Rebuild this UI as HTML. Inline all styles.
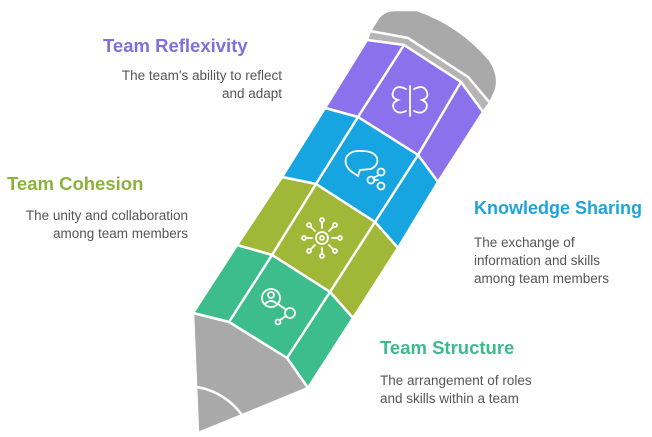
<!DOCTYPE html>
<html><head><meta charset="utf-8"><style>
html,body{margin:0;padding:0;background:#fff;}
body{width:652px;height:437px;position:relative;overflow:hidden;font-family:"Liberation Sans",sans-serif;}
svg{position:absolute;left:0;top:0;}
</style></head><body>
<svg width="652" height="437" viewBox="0 0 652 437">
<g stroke="#fff" stroke-width="2.5" stroke-linejoin="round">
<path d="M370,31 L378,18 Q384,10 395,10 L417,10 Q460,25 490,60 Q500,75 496,90 L490,103 L468,77 L408,38 Z" fill="#a9a9a9"/>
<path d="M367,40 L370,31 L408,38 L468,77 L490,103 L483,112 L461,82 L404,45 Z" fill="#b5b5b5"/>
<path d="M367,40 L404,45 L461,82 L483,112 L438,182 L418,155 L358,117 L325,108 Z" fill="#8b72ec"/>
<path d="M325,108 L358,117 L418,155 L438,182 L398,248 L375,222 L316,184 L282,177 Z" fill="#17a5e1"/>
<path d="M282,177 L316,184 L375,222 L398,248 L353,318 L330,292 L272,255 L237,245 Z" fill="#a0b737"/>
<path d="M237,245 L272,255 L330,292 L353,318 L308,388 L287,358 L229,322 L193,313 Z" fill="#3dbd8c"/>
<path d="M193,313 L229,322 L287,358 L308,388 Q250,412 198,433 Z" fill="#a9a9a9"/>
<path d="M197,387 Q225,392 242,415" fill="none"/>
<polyline points="404,45 358,117 316,184 272,255 229,322" fill="none"/>
<polyline points="461,82 418,155 375,222 330,292 287,358" fill="none"/>
</g>
<g fill="none" stroke="#fff" stroke-width="1.8" stroke-linecap="round">
<line x1="410" y1="86" x2="410" y2="116"/>
<path d="M406,89 Q396,84 393,92 Q391,98 398,100 Q391,103 394,109 Q398,115 406,111"/>
<path d="M414,89 Q424,84 427,92 Q429,98 422,100 Q429,103 426,109 Q422,115 414,111"/>
<path d="M352,172 Q344,166 346,158 Q350,150 362,151 Q374,151 377,158 Q379,165 371,169 L360,170 L358,176 Z"/>
<circle cx="381" cy="172" r="3.5"/><circle cx="371" cy="180" r="3.5"/><circle cx="381" cy="186" r="3.5"/>
<line x1="374" y1="180" x2="378" y2="180"/><line x1="379" y1="175" x2="373" y2="178"/>
<circle cx="322" cy="238" r="6"/><circle cx="322" cy="238" r="2"/>
<g><line x1="322" y1="228" x2="322" y2="222"/><line x1="322" y1="248" x2="322" y2="254"/><line x1="312" y1="238" x2="306" y2="238"/><line x1="332" y1="238" x2="338" y2="238"/><line x1="315" y1="231" x2="311" y2="227"/><line x1="329" y1="231" x2="333" y2="227"/><line x1="315" y1="245" x2="311" y2="249"/><line x1="329" y1="245" x2="333" y2="249"/></g>
<circle cx="322" cy="220" r="2"/><circle cx="322" cy="256" r="2"/><circle cx="304" cy="238" r="2"/><circle cx="340" cy="238" r="2"/><circle cx="309" cy="225" r="2"/><circle cx="335" cy="225" r="2"/><circle cx="309" cy="251" r="2"/><circle cx="335" cy="251" r="2"/>
<circle cx="271" cy="298" r="9"/><circle cx="271" cy="295" r="3"/><path d="M265,304 Q271,298 277,304"/>
<line x1="278" y1="304" x2="285" y2="309"/><circle cx="290" cy="313" r="5"/><line x1="286" y1="316" x2="280" y2="320"/><circle cx="278" cy="322" r="2.5"/>
</g>
<g font-family="Liberation Sans, sans-serif">
<text x="103" y="52" font-size="18.5" font-weight="bold" fill="#7f6fe0">Team Reflexivity</text>
<text x="282" y="80" font-size="13.5" fill="#555" text-anchor="end">The team's ability to reflect</text>
<text x="282" y="98" font-size="13.5" fill="#555" text-anchor="end">and adapt</text>
<text x="7" y="190" font-size="18.5" font-weight="bold" fill="#8db23c">Team Cohesion</text>
<text x="188" y="220" font-size="13.5" fill="#555" text-anchor="end">The unity and collaboration</text>
<text x="188" y="238" font-size="13.5" fill="#555" text-anchor="end">among team members</text>
<text x="474" y="214" font-size="18" font-weight="bold" fill="#1fa3dc">Knowledge Sharing</text>
<text x="474" y="247" font-size="13.5" fill="#555">The exchange of</text>
<text x="474" y="265" font-size="13.5" fill="#555">information and skills</text>
<text x="474" y="283" font-size="13.5" fill="#555">among team members</text>
<text x="380" y="354" font-size="18.5" font-weight="bold" fill="#3dba8a">Team Structure</text>
<text x="380" y="385" font-size="13.5" fill="#555">The arrangement of roles</text>
<text x="380" y="403" font-size="13.5" fill="#555">and skills within a team</text>
</g>
</svg>
</body></html>
